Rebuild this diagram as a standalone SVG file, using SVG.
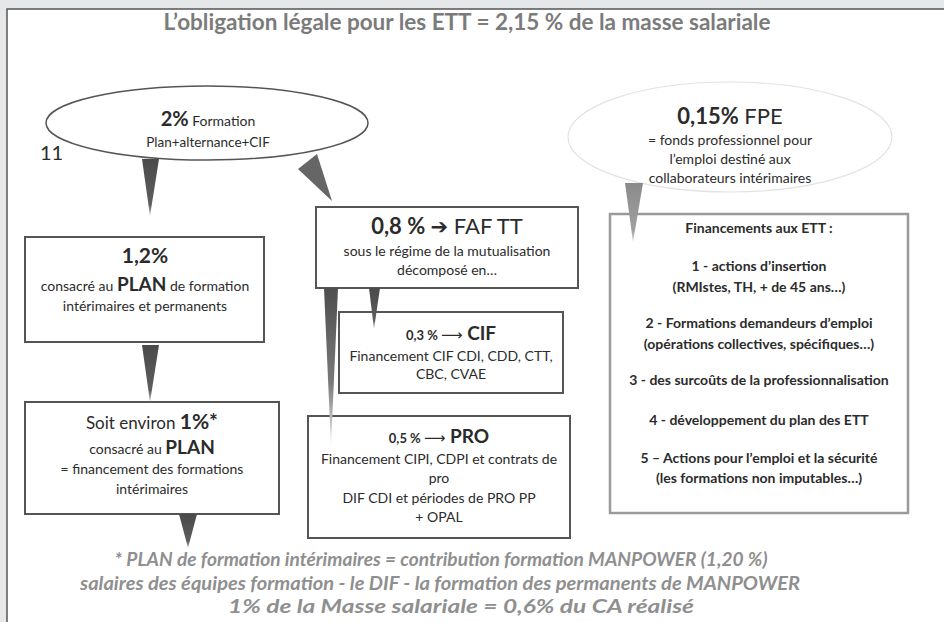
<svg xmlns="http://www.w3.org/2000/svg" width="944" height="622" viewBox="0 0 944 622">
<defs>
<style>
.t{font-family:Lato,"Open Sans","DejaVu Sans",sans-serif;fill:#2b2b2b;text-anchor:middle}
.b{font-weight:bold}
.box{fill:#fff;stroke:#555;stroke-width:2}
.ar{font-family:"DejaVu Sans",sans-serif}
.foot{font-family:Lato,"Open Sans",sans-serif;font-weight:bold;font-style:italic;fill:#8f8f8f;text-anchor:middle;font-size:18px}
</style>
<linearGradient id="gDark" x1="0" y1="0" x2="0" y2="1">
<stop offset="0" stop-color="#4a4a4a"/><stop offset="0.8" stop-color="#5e5e5e"/><stop offset="1" stop-color="#bdbdbd"/>
</linearGradient>
<linearGradient id="gLong" x1="0" y1="0" x2="0" y2="1">
<stop offset="0" stop-color="#4e4e4e"/><stop offset="0.6" stop-color="#7a7a7a"/><stop offset="1" stop-color="#f4f4f4"/>
</linearGradient>
<linearGradient id="gLight" x1="0" y1="0" x2="0" y2="1">
<stop offset="0" stop-color="#8a8a8a"/><stop offset="0.8" stop-color="#a0a0a0"/><stop offset="1" stop-color="#d8d8d8"/>
</linearGradient>
</defs>
<rect x="0" y="0" width="944" height="622" fill="#e6e7e8"/>
<rect x="7" y="9" width="950" height="620" fill="#fff" stroke="#555" stroke-width="1.5"/>
<text id="title" class="t b" x="467" y="30" font-size="22" style="fill:#7b7b7b" textLength="607" lengthAdjust="spacingAndGlyphs">L’obligation légale pour les ETT = 2,15 % de la masse salariale</text>

<g id="formation2">
<ellipse cx="207" cy="123" rx="161" ry="37" fill="#fff" stroke="#555" stroke-width="1.5"/>
<text class="t" x="208" y="126"><tspan class="b" font-size="20">2%</tspan><tspan font-size="14"> Formation</tspan></text>
<text class="t" x="208" y="147" font-size="13.5">Plan+alternance+CIF</text>
</g>
<text id="num11" class="t" x="40" y="160" font-size="20" style="text-anchor:start">11</text>

<g id="fpe">
<ellipse cx="730" cy="137" rx="162" ry="55" fill="#fff" stroke="#e2e2e2" stroke-width="1.2"/>
<text class="t" x="730" y="124" font-size="22"><tspan class="b">0,15%</tspan> FPE</text>
<text class="t" x="730" y="145" font-size="14">= fonds professionnel pour</text>
<text class="t" x="730" y="164" font-size="14">l’emploi destiné aux</text>
<text class="t" x="730" y="183" font-size="14">collaborateurs intérimaires</text>
</g>

<g id="plan12">
<rect class="box" x="25" y="237" width="239" height="105"/>
<text class="t b" x="145" y="263" font-size="21">1,2%</text>
<text class="t" x="145" y="291" font-size="14">consacré au <tspan class="b" font-size="19">PLAN</tspan> de formation</text>
<text class="t" x="145" y="311" font-size="14">intérimaires et permanents</text>
</g>

<g id="plan1">
<rect class="box" x="25" y="402" width="254" height="112"/>
<text class="t" x="152" y="429" font-size="17">Soit environ <tspan class="b" font-size="21">1%*</tspan></text>
<text class="t" x="152" y="454" font-size="14">consacré au <tspan class="b" font-size="19">PLAN</tspan></text>
<text class="t" x="152" y="474" font-size="14">= financement des formations</text>
<text class="t" x="152" y="494" font-size="14">intérimaires</text>
</g>

<g id="faftt">
<rect class="box" x="316" y="207" width="262" height="81"/>
<text class="t" x="447" y="234" font-size="22"><tspan class="b">0,8 % </tspan><tspan class="b ar" font-size="21">➔</tspan> FAF TT</text>
<text class="t" x="447" y="256" font-size="14">sous le régime de la mutualisation</text>
<text class="t" x="447" y="275" font-size="14">décomposé en…</text>
</g>

<g id="cif">
<rect class="box" x="339" y="312" width="224" height="81"/>
<text class="t" x="451" y="340"><tspan class="b" font-size="13">0,3 % </tspan><tspan class="ar" font-size="15">⟶</tspan><tspan class="b" font-size="19"> CIF</tspan></text>
<text class="t" x="451" y="361" font-size="14">Financement CIF CDI, CDD, CTT,</text>
<text class="t" x="451" y="379" font-size="14">CBC, CVAE</text>
</g>

<g id="pro">
<rect class="box" x="308" y="416" width="262" height="122"/>
<text class="t" x="439" y="443"><tspan class="b" font-size="13">0,5 % </tspan><tspan class="ar" font-size="15">⟶</tspan><tspan class="b" font-size="19"> PRO</tspan></text>
<text class="t" x="439" y="464" font-size="14">Financement CIPI, CDPI et contrats de</text>
<text class="t" x="439" y="483" font-size="14">pro</text>
<text class="t" x="439" y="503" font-size="14">DIF CDI et périodes de PRO PP</text>
<text class="t" x="439" y="522" font-size="14">+ OPAL</text>
</g>

<g id="financements">
<rect x="610" y="214" width="298" height="299" fill="#fff" stroke="#9a9a9a" stroke-width="2.5"/>
<g class="t b" font-size="14">
<text x="759" y="233">Financements aux ETT :</text>
<text x="759" y="271">1 -  actions d’insertion</text>
<text x="759" y="292">(RMIstes, TH, + de 45 ans…)</text>
<text x="759" y="328">2 - Formations demandeurs d’emploi</text>
<text x="759" y="349">(opérations collectives, spécifiques…)</text>
<text x="759" y="385">3 - des surcoûts de la professionnalisation</text>
<text x="759" y="425">4 - développement du plan des ETT</text>
<text x="759" y="463">5 – Actions pour l’emploi et la sécurité</text>
<text x="759" y="483">(les formations non imputables…)</text>
</g>
</g>

<g id="connectors">
<polygon points="142,159 159,159 150,216" fill="url(#gDark)"/>
<polygon points="298,169 317,154 332,201" fill="#666"/>
<polygon points="142,345 159,345 150,402" fill="url(#gDark)"/>
<polygon points="179,514 197,514 188,548" fill="url(#gDark)"/>
<polygon points="369,288 380,288 374,329" fill="url(#gDark)"/>
<polygon points="324,288 338,288 331,447" fill="url(#gLong)"/>
<polygon points="625,183 643,183 633,242" fill="url(#gLight)"/>
</g>

<g id="footer">
<text class="foot" x="441" y="566" textLength="653" lengthAdjust="spacingAndGlyphs">* PLAN de formation intérimaires = contribution formation  MANPOWER (1,20 %)</text>
<text class="foot" x="440" y="590" textLength="720" lengthAdjust="spacingAndGlyphs">salaires des équipes formation -  le DIF  -  la formation des permanents de MANPOWER</text>
<text class="foot" x="461" y="613" textLength="466" lengthAdjust="spacingAndGlyphs">1% de la Masse salariale = 0,6% du CA réalisé</text>
</g>
</svg>
